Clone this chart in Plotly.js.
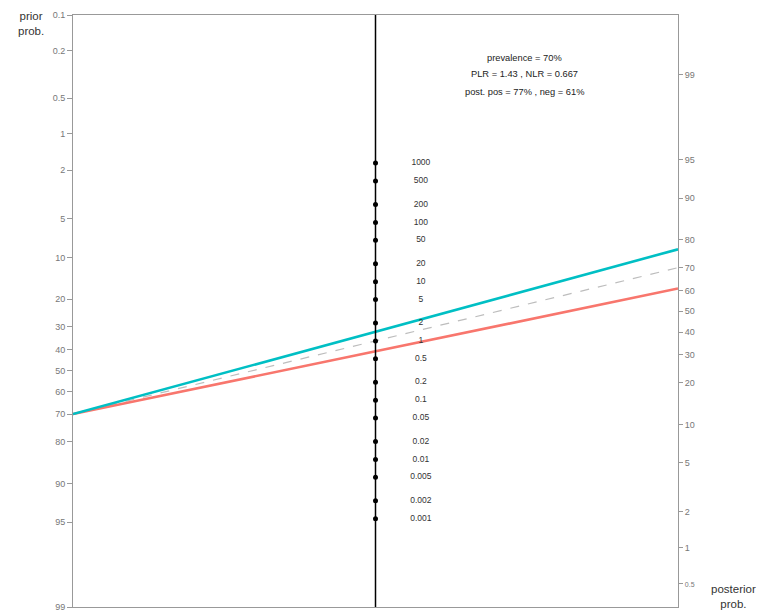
<!DOCTYPE html>
<html><head><meta charset="utf-8">
<script src="https://cdn.plot.ly/plotly-3.0.1.min.js"></script>
<style>body{margin:0;background:#fff}#chart{width:761px;height:613px}</style>
</head><body><div id="chart"></div>
<script>
// ---- data ----
var priorTicks = [0.1, 0.2, 0.5, 1, 2, 5, 10, 20, 30, 40, 50, 60, 70, 80, 90, 95, 99];
var postTicks = [99, 95, 90, 80, 70, 60, 50, 40, 30, 20, 10, 5, 2, 1, 0.5];
var lrTicks = [1000, 500, 200, 100, 50, 20, 10, 5, 2, 1, 0.5, 0.2, 0.1, 0.05, 0.02, 0.01, 0.005, 0.002, 0.001];
var lrLabels = ["1000", "500", "200", "100", "50", "20", "10", "5", "2", "1", "0.5", "0.2", "0.1", "0.05", "0.02", "0.01", "0.005", "0.002", "0.001"];
var prevalence = 70;   // %
var PLR = 1.43;
var NLR = 0.667;
var postPos = 77, postNeg = 61;
var rightOffset = 1.15; // offset of posterior axis (logit units)

function logit(p){ return Math.log(p/(1-p)); }
var yLo = logit(0.01), yHi = -logit(0.001);

var priorY = priorTicks.map(function(p){ return -logit(p/100); });
var postY = postTicks.map(function(p){ return logit(p/100); });
var postText = postTicks.map(function(p){ return p < 1 ? '<span style="font-size:7px">' + p + '</span>' : String(p); });
var lrY = lrTicks.map(function(l){ return (Math.log(l) + rightOffset)/2; });

var p0 = prevalence/100;
function postLine(lr){ return [-logit(p0), logit(p0) + Math.log(lr) + rightOffset]; }

var traces = [
  {x:[0,1], y:postLine(1), mode:'lines', line:{color:'#bdbdbd', width:1.2, dash:'dash'}, hoverinfo:'skip', showlegend:false},
  {x:[0,1], y:postLine(NLR), mode:'lines', line:{color:'#F8766D', width:2.6}, hoverinfo:'skip', showlegend:false},
  {x:[0,1], y:postLine(PLR), mode:'lines', line:{color:'#00BFC4', width:2.6}, hoverinfo:'skip', showlegend:false},
  {x:lrY.map(function(){return 0.5;}), y:lrY, mode:'markers', marker:{color:'#000', size:5}, hoverinfo:'skip', showlegend:false},
  {x:lrY.map(function(){return 0.575;}), y:lrY, mode:'text', text:lrLabels, textposition:'middle center',
   textfont:{family:'Liberation Sans, Arial', size:8.5, color:'#333'}, hoverinfo:'skip', showlegend:false},
  {x:[1], y:[0], yaxis:'y2', mode:'markers', marker:{opacity:0}, hoverinfo:'skip', showlegend:false}
];

var tickFont = {family:'Liberation Sans, Arial', size:9, color:'#777'};
var annFont = {family:'Liberation Sans, Arial', size:9.3, color:'#222'};
var layout = {
  width:761, height:613,
  margin:{l:73, r:83, t:15, b:6},
  paper_bgcolor:'#fff', plot_bgcolor:'#fff',
  xaxis:{range:[0,1], showgrid:false, zeroline:false, showticklabels:false, ticks:'',
         showline:true, mirror:true, linecolor:'#999', linewidth:1},
  yaxis:{range:[yLo, yHi], showgrid:false, zeroline:false, tickmode:'array',
         tickvals:priorY, ticktext:priorTicks.map(String), ticks:'outside', ticklen:5,
         tickcolor:'#999', tickfont:tickFont, showline:true, linecolor:'#999', linewidth:1},
  yaxis2:{range:[yLo - rightOffset, yHi - rightOffset], overlaying:'y', side:'right',
          showgrid:false, zeroline:false, tickmode:'array', tickvals:postY,
          ticktext:postText, ticks:'outside', ticklen:4, tickcolor:'#999',
          tickfont:tickFont, showline:true, linecolor:'#999', linewidth:1},
  shapes:[{type:'line', xref:'x', yref:'paper', x0:0.5, x1:0.5, y0:0, y1:1, line:{color:'#000', width:1.5}}],
  annotations:[
    {xref:'paper', yref:'paper', x:0.747, y:0.927, xanchor:'center', yanchor:'middle',
     text:'prevalence = ' + prevalence + '%', showarrow:false, font:annFont},
    {xref:'paper', yref:'paper', x:0.747, y:0.900, xanchor:'center', yanchor:'middle',
     text:'PLR = ' + PLR + ' , NLR = ' + NLR, showarrow:false, font:annFont},
    {xref:'paper', yref:'paper', x:0.747, y:0.870, xanchor:'center', yanchor:'middle',
     text:'post. pos = ' + postPos + '% , neg = ' + postNeg + '%', showarrow:false, font:annFont},
    {xref:'paper', yref:'paper', x:-0.070, y:1.012, xanchor:'center', yanchor:'top', text:'prior<br>prob.', showarrow:false,
     font:{family:'Liberation Sans, Arial', size:11.5, color:'#333'}},
    {xref:'paper', yref:'paper', x:1.091, y:-0.008, xanchor:'center', yanchor:'bottom', text:'posterior<br>prob.', showarrow:false,
     font:{family:'Liberation Sans, Arial', size:11.5, color:'#333'}}
  ]
};
Plotly.newPlot('chart', traces, layout, {displayModeBar:false, staticPlot:true});
</script></body></html>
